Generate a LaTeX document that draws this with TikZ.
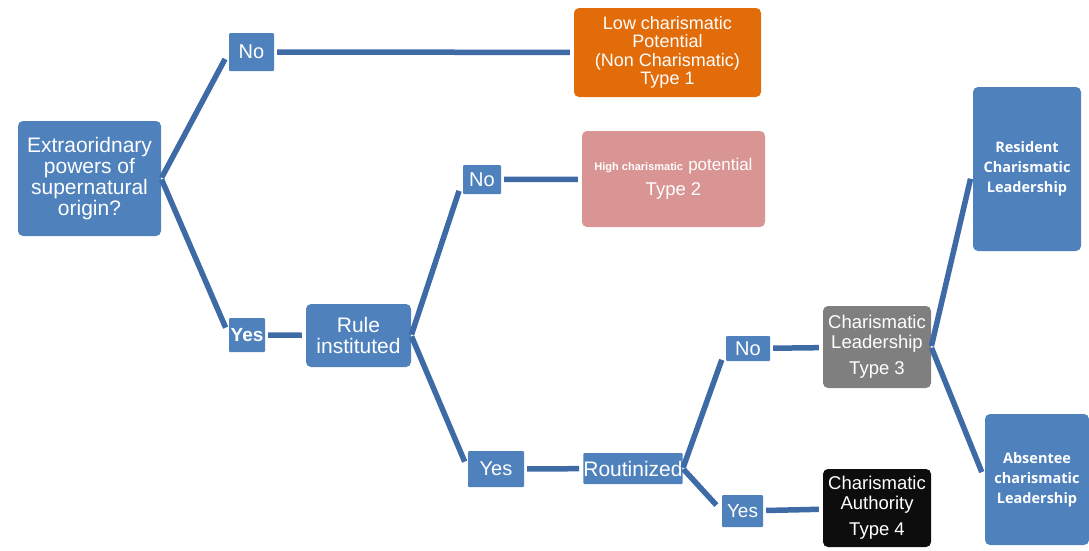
\documentclass[tikz,border=0pt]{standalone}
\usepackage{fontspec}
\setmainfont{Liberation Sans}
\newfontfamily\leaderfont{Open Sans}
\definecolor{boxBlue}{RGB}{79,129,189}
\definecolor{lineBlue}{RGB}{62,106,166}
\definecolor{typeOrange}{RGB}{227,108,10}
\definecolor{typePink}{RGB}{217,149,148}
\definecolor{typeGray}{RGB}{127,127,127}
\definecolor{typeBlack}{RGB}{13,13,13}

\begin{document}
\begin{tikzpicture}[
        x=1pt, y=-1pt,
        mainNode/.style={rectangle, rounded corners=5pt, fill=boxBlue, text=white, align=center, inner sep=0pt},
        answerNode/.style={rectangle, rounded corners=1pt, fill=boxBlue, text=white, align=center, inner sep=0pt, font=\fontsize{20}{22}\selectfont},
        typeNode/.style={mainNode, minimum width=108pt, font=\fontsize{18.5}{20}\selectfont},
        leaderNode/.style={mainNode, font=\leaderfont\bfseries\fontsize{14.5}{20}\selectfont},
        branchLine/.style={line width=5.5pt, draw=lineBlue, shorten <=3pt, shorten >=4pt},
        slantLine/.style={line width=5.5pt, draw=lineBlue, shorten <=1pt, shorten >=8pt}
    ]
        \useasboundingbox (0,0) rectangle (1089,550);

        % Root node
        \node[mainNode, minimum width=143pt, minimum height=115pt, font=\fontsize{21}{21}\selectfont] (root) at (89.5,178.5)
            {Extraoridnary\\powers of\\supernatural\\origin?};

        % Answers
        \node[answerNode, minimum width=45pt, minimum height=38pt] (no1) at (251.5,52) {No};
        \node[answerNode, minimum width=36pt, minimum height=34pt, font=\fontsize{19}{20}\selectfont\bfseries] (yes1) at (247,335) {Yes};
        \node[answerNode, minimum width=38pt, minimum height=29pt] (no2) at (482,179.5) {No};
        \node[answerNode, minimum width=56pt, minimum height=36pt] (yes2) at (496,469) {Yes};
        \node[answerNode, minimum width=44pt, minimum height=25pt] (no3) at (748,348.5) {No};
        \node[answerNode, minimum width=41pt, minimum height=32pt, font=\fontsize{19}{20}\selectfont] (yes3) at (742.5,511) {Yes};

        % Questions
        \node[mainNode, minimum width=105pt, minimum height=63pt, font=\fontsize{21}{21}\selectfont] (rule) at (358.5,335.5) {Rule\\instituted};
        \node[answerNode, minimum width=98pt, minimum height=31pt, font=\fontsize{21}{21}\selectfont] (routine) at (633,468.5) {Routinized};

        % Types
        \node[typeNode, minimum width=187pt, minimum height=89pt, fill=typeOrange, font=\fontsize{18}{18.5}\selectfont] (type1) at (667.5,52.5)
            {Low charismatic\\Potential\\(Non Charismatic)\\Type 1};
        \node[typeNode, minimum width=183pt, minimum height=96pt, fill=typePink] (type2) at (673.5,179)
            {{\fontsize{11}{13}\selectfont\bfseries High charismatic} {\fontsize{17}{18}\selectfont potential}\\[5pt]Type 2};
        \node[typeNode, minimum height=82pt, fill=typeGray] (type3) at (877,347) {Charismatic\\Leadership\\[6pt]Type 3};
        \node[typeNode, minimum height=78pt, fill=typeBlack] (type4) at (877,508) {Charismatic\\Authority\\[6pt]Type 4};

        % Leadership
        \node[leaderNode, minimum width=108pt, minimum height=164pt] (resident) at (1027,169) {Resident\\Charismatic\\Leadership};
        \node[leaderNode, minimum width=104pt, minimum height=131pt] (absentee) at (1037,479.5) {Absentee\\charismatic\\Leadership};

        % Edges
        \draw[slantLine] (root.east) -- (no1.west);
        \draw[slantLine] (root.east) -- (yes1.west);
        \draw[branchLine] (no1) -- (type1);
        \draw[branchLine] (yes1) -- (rule);
        \draw[slantLine, shorten >=12pt] (rule.east) -- (no2.west);
        \draw[slantLine] (rule.east) -- (yes2.west);
        \draw[branchLine] (no2) -- (type2);
        \draw[branchLine] (yes2) -- (routine);
        \draw[slantLine, shorten >=12pt] (routine.east) -- (no3.west);
        \draw[slantLine] (routine.east) -- (yes3.west);
        \draw[branchLine] (no3) -- (type3);
        \draw[branchLine] (yes3) -- (type4);
        \draw[slantLine, shorten >=10pt] (type3.east) -- (resident.west);
        \draw[slantLine] (type3.east) -- (absentee.west);
    \end{tikzpicture}
\end{document}
